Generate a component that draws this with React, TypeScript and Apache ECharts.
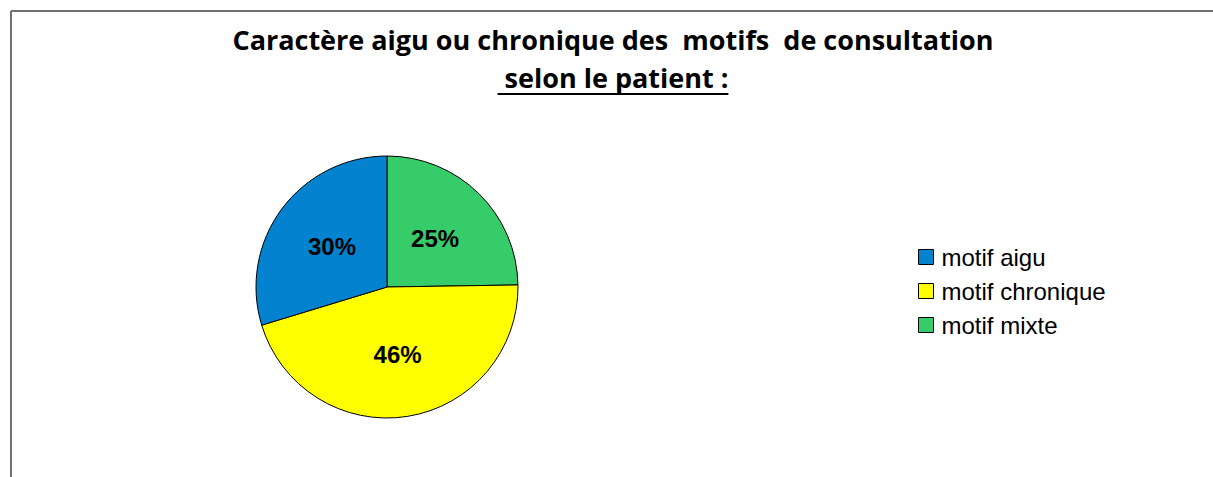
import React, { useEffect, useRef } from "react";
import * as echarts from "echarts";

const titleLine1 = "Caractère aigu ou chronique des  motifs  de consultation";
const titleLine2 = " selon le patient :";
const categories = ["motif mixte", "motif chronique", "motif aigu"];
const values = [25, 46, 30];
const colors = ["#35cc69", "#ffff00", "#0382d0"];
const legendOrder = ["motif aigu", "motif chronique", "motif mixte"];

const TITLE_FONT = "bold 27px 'Open Sans', sans-serif";

function measure(text: string, font: string): number {
  const c = document.createElement("canvas");
  const ctx = c.getContext("2d");
  if (!ctx) return 0;
  ctx.font = font;
  return ctx.measureText(text).width;
}

export default function App() {
  const ref = useRef<HTMLDivElement>(null);
  useEffect(() => {
    if (!ref.current) return;
    const chart = echarts.init(ref.current, undefined, { renderer: "svg" });
    const cx = 613;
    const w2 = measure(titleLine2, TITLE_FONT);
    chart.setOption({
      animation: false,
      backgroundColor: "#ffffff",
      legend: {
        orient: "vertical",
        left: 913,
        top: 240,
        itemWidth: 15,
        itemHeight: 15,
        itemGap: 10,
        data: legendOrder,
        icon: "rect",
        itemStyle: { borderColor: "#000", borderWidth: 1 },
        textStyle: {
          fontFamily: "'Liberation Sans', Arial, sans-serif",
          fontSize: 24,
          color: "#000",
          padding: [0, 0, 0, 3],
        },
      },
      graphic: [
        {
          type: "line",
          shape: { x1: 11, y1: 11, x2: 1213, y2: 11 },
          style: { stroke: "#707070", lineWidth: 2 },
        },
        {
          type: "line",
          shape: { x1: 11, y1: 11, x2: 11, y2: 477 },
          style: { stroke: "#707070", lineWidth: 2 },
        },
        {
          type: "text",
          x: cx,
          y: 39,
          style: {
            text: titleLine1,
            font: TITLE_FONT,
            fill: "#000",
            align: "center",
            verticalAlign: "middle",
          },
        },
        {
          type: "text",
          x: cx,
          y: 77,
          style: {
            text: titleLine2,
            font: TITLE_FONT,
            fill: "#000",
            align: "center",
            verticalAlign: "middle",
          },
        },
        {
          type: "line",
          shape: { x1: cx - w2 / 2, y1: 94, x2: cx + w2 / 2, y2: 94 },
          style: { stroke: "#000", lineWidth: 2 },
        },
      ],
      series: [
        {
          type: "pie",
          center: [387, 287],
          radius: [0, 131],
          startAngle: 90,
          clockwise: true,
          label: {
            show: true,
            position: "inside",
            formatter: (p: any) => p.value + "%",
            fontFamily: "'Liberation Sans', Arial, sans-serif",
            fontWeight: "bold",
            fontSize: 24,
            color: "#000",
          },
          labelLine: { show: false },
          itemStyle: { borderColor: "#000", borderWidth: 1 },
          emphasis: { disabled: true },
          data: categories.map((name, i) => ({
            name,
            value: values[i],
            itemStyle: { color: colors[i] },
          })),
        },
      ],
    });
    return () => chart.dispose();
  }, []);
  return (
    <div
      ref={ref}
      style={{ position: "fixed", left: 0, top: 0, width: 1213, height: 477 }}
    />
  );
}
